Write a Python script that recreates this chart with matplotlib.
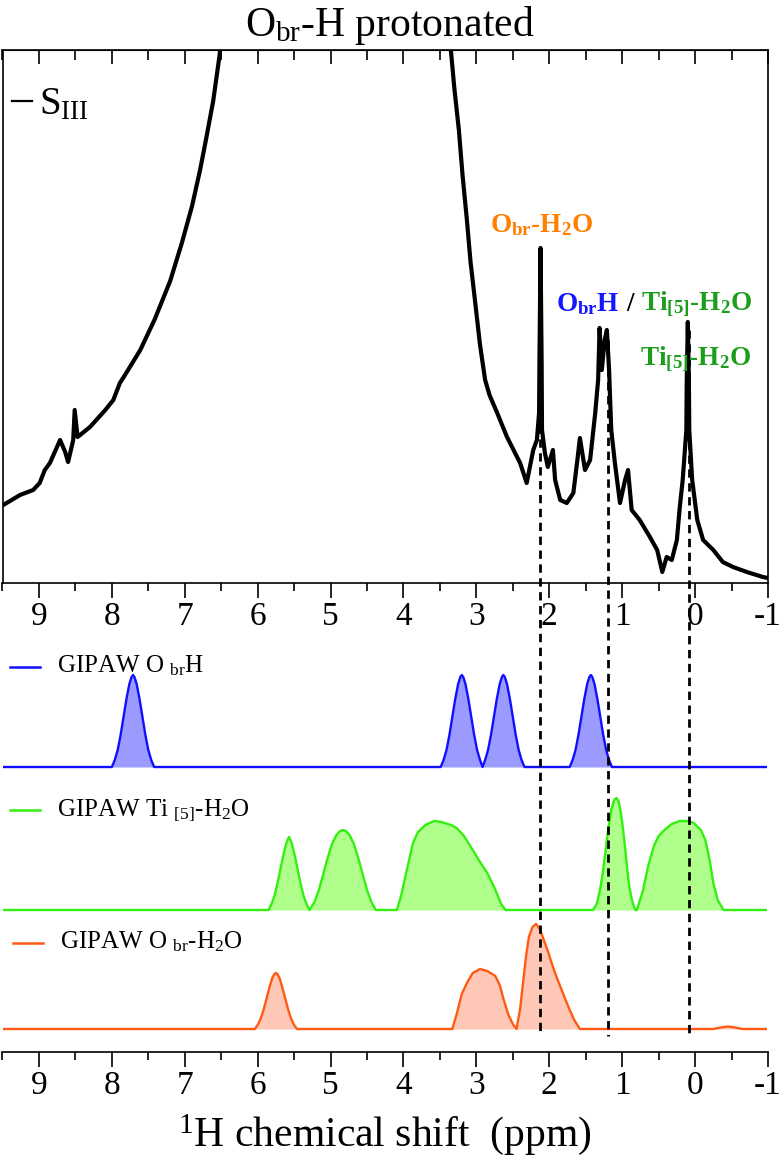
import matplotlib
matplotlib.use("Agg")
from matplotlib import pyplot as plt
from matplotlib.ticker import FixedLocator, MultipleLocator

plt.rcParams['font.family'] = ['Liberation Serif', 'DejaVu Serif']
plt.rcParams['mathtext.fontset'] = 'custom'
plt.rcParams['mathtext.rm'] = 'Liberation Serif'
plt.rcParams['mathtext.it'] = 'Liberation Serif:italic'
plt.rcParams['mathtext.bf'] = 'Liberation Serif:bold'
plt.rcParams['axes.unicode_minus'] = False

# ---- data (ppm, intensity) ----
# experimental 1H spectrum S_III (arbitrary units, top goes off scale)
exp_ppm = [9.49, 9.26, 9.08, 8.99, 8.92, 8.85, 8.71, 8.64, 8.60, 8.53, 8.51, 8.47,
           8.30, 8.09, 7.98, 7.89, 7.82, 7.61, 7.41, 7.20, 7.04, 6.90, 6.79, 6.71,
           6.61, 6.52, 6.45,
           3.42, 3.35, 3.30, 3.24, 3.19, 3.13, 3.08, 3.02, 2.95, 2.88, 2.82, 2.72,
           2.58, 2.40, 2.31, 2.22, 2.17, 2.14, 2.135, 2.12, 2.105, 2.10, 2.06, 2.02,
           1.95, 1.92, 1.85, 1.76, 1.67, 1.61, 1.58, 1.51, 1.44, 1.37, 1.33, 1.31,
           1.28, 1.24, 1.21, 1.18, 1.15, 1.10, 1.03, 0.96, 0.92, 0.87, 0.76, 0.62,
           0.52, 0.45, 0.39, 0.32, 0.25, 0.21, 0.17, 0.12, 0.115, 0.10, 0.085, 0.08,
           0.04, -0.03, -0.11, -0.25, -0.38, -0.52, -0.71, -0.93, -1.00]
exp_int = [78, 88, 93, 100, 113, 120, 143, 131, 121, 143, 173, 146,
           156, 173, 183, 200, 208, 233, 264, 302, 340, 377, 413, 443,
           482, 529, 600,
           600, 533, 493, 453, 408, 363, 321, 283, 238, 203, 188, 171,
           146, 120, 100, 133, 143, 170, 220, 335, 220, 153, 130, 116,
           133, 103, 83, 80, 90, 126, 145, 113, 123, 170, 203, 255,
           213, 243, 253, 213, 153, 120, 80, 103, 113, 73, 63, 46,
           33, 11, 26, 23, 43, 76, 103, 153, 200, 261, 200, 153,
           103, 63, 43, 33, 21, 16, 11, 6, 5]

# GIPAW O_brH
obrh_ppm = [9.48,
            8.00, 7.96, 7.92, 7.88, 7.84, 7.80, 7.76, 7.73, 7.71, 7.69, 7.66, 7.62, 7.58, 7.54, 7.50, 7.46, 7.42,
            3.49, 3.45, 3.41, 3.37, 3.33, 3.29, 3.25, 3.22, 3.20, 3.18, 3.15, 3.11, 3.07, 3.03, 2.99, 2.95, 2.915,
            2.88, 2.84, 2.80, 2.76, 2.72, 2.68, 2.65, 2.63, 2.61, 2.58, 2.54, 2.50, 2.46, 2.42, 2.38, 2.34,
            1.72, 1.68, 1.64, 1.60, 1.56, 1.52, 1.48, 1.45, 1.43, 1.41, 1.38, 1.34, 1.30, 1.26, 1.22, 1.18, 1.14,
            -0.97]
obrh_int = [0,
            0, 7, 17, 32, 50, 68, 83, 90, 92, 90, 83, 68, 50, 32, 17, 7, 0,
            0, 7, 17, 32, 50, 68, 83, 90, 92, 90, 83, 68, 50, 32, 17, 7, 0,
            7, 17, 32, 50, 68, 83, 90, 92, 90, 83, 68, 50, 32, 17, 7, 0,
            0, 7, 17, 32, 50, 68, 83, 90, 92, 90, 83, 68, 50, 32, 17, 7, 0,
            0]

# GIPAW Ti[5]-H2O
ti5_ppm = [9.48,
           5.85, 5.81, 5.77, 5.73, 5.69, 5.65, 5.61, 5.585, 5.57, 5.555, 5.53, 5.49, 5.45, 5.41, 5.37, 5.33, 5.29,
           5.22, 5.16, 5.10, 5.04, 4.98, 4.92, 4.87, 4.83, 4.79, 4.74, 4.68, 4.62, 4.56, 4.50, 4.44, 4.38,
           4.09, 4.03, 3.96, 3.87, 3.80, 3.70, 3.58, 3.48, 3.35, 3.27, 3.17, 3.05, 2.95, 2.85, 2.75, 2.66, 2.60,
           1.40, 1.35, 1.31, 1.27, 1.23, 1.19, 1.15, 1.11, 1.08, 1.05, 1.02, 0.99, 0.96, 0.93, 0.90, 0.86, 0.82,
           0.80, 0.72, 0.64, 0.56, 0.50, 0.42, 0.32, 0.21, 0.10, 0.02, -0.08, -0.14, -0.20, -0.25, -0.31, -0.39,
           -0.97]
ti5_int = [0,
           0, 6, 14, 26, 40, 54, 66, 71, 73, 71, 66, 54, 40, 26, 14, 6, 0,
           8, 20, 36, 52, 66, 75, 79, 80, 79, 75, 66, 52, 36, 20, 8, 0,
           0, 15, 38, 67, 78, 85, 89, 88, 85, 82, 74, 60, 48, 37, 22, 6, 0,
           0, 6, 18, 35, 58, 82, 100, 110, 112, 109, 98, 82, 62, 40, 22, 8, 0,
           0, 18, 45, 65, 74, 80, 86, 89, 89, 87, 80, 70, 50, 27, 10, 0,
           0]

# GIPAW O_br-H2O
obrh2o_ppm = [9.48,
              6.04, 6.00, 5.96, 5.92, 5.88, 5.84, 5.80, 5.77, 5.75, 5.73, 5.70, 5.66, 5.62, 5.58, 5.54, 5.50, 5.46,
              3.33, 3.27, 3.20, 3.13, 3.05, 2.95, 2.85, 2.74, 2.68, 2.62, 2.56, 2.50, 2.45,
              2.40, 2.36, 2.32, 2.28, 2.23, 2.18, 2.13, 2.09, 2.02, 1.95, 1.89, 1.83, 1.77, 1.72, 1.65, 1.58,
              -0.25, -0.35, -0.45, -0.55, -0.65,
              -0.97]
obrh2o_int = [0,
              0, 4, 10, 19, 30, 41, 51, 55, 56, 55, 51, 41, 30, 19, 10, 4, 0,
              0, 15, 35, 46, 56, 60, 58, 53, 44, 28, 14, 5, 0,
              20, 46, 72, 92, 102, 105, 100, 92, 78, 62, 50, 39, 28, 19, 8, 0,
              0, 1.5, 2.5, 1.5, 0,
              0]

marker_ppm = [2.13, 1.20, 0.09]
tick_vals = [9, 8, 7, 6, 5, 4, 3, 2, 1, 0, -1]
tick_labels = ['9', '8', '7', '6', '5', '4', '3', '2', '1', '0', '-1']

# ---- layout helpers (figure pixels) ----
W, H = 780, 1165
X0, X1 = 2.5, 768


def box(top, bottom):
    return [X0 / W, 1 - bottom / H, (X1 - X0) / W, (bottom - top) / H]


def fx(px):
    return px / W


def fy(py):
    return 1 - py / H


fig = plt.figure(figsize=(7.8, 11.65), dpi=100)

# top panel: experimental spectrum
ax_top = fig.add_axes(box(50, 583))
ax_top.plot(exp_ppm, exp_int, color='black', lw=3.0, solid_joinstyle='round')
ax_top.set_xlim(9.5, -1)
ax_top.set_ylim(0, 533)
ax_top.set_yticks([])
ax_top.xaxis.set_major_locator(FixedLocator(tick_vals))
ax_top.set_xticklabels(tick_labels)
ax_top.xaxis.set_minor_locator(MultipleLocator(0.5))
ax_top.tick_params(axis='x', which='major', direction='out', length=11, width=1.2,
                   labelsize=24, pad=2)
ax_top.tick_params(axis='x', which='minor', direction='out', length=6, width=1.2)
for s in ax_top.spines.values():
    s.set_linewidth(1.2)
sec = ax_top.secondary_xaxis('top')
sec.xaxis.set_major_locator(FixedLocator(tick_vals))
sec.xaxis.set_minor_locator(MultipleLocator(0.5))
sec.tick_params(axis='x', which='major', direction='in', length=10, width=1.2, labeltop=False)
sec.tick_params(axis='x', which='minor', direction='in', length=7, width=1.2)

# bottom panel: GIPAW simulated spectra
ax_bot = fig.add_axes(box(640, 1052))
ax_bot.set_xlim(9.5, -1)
ax_bot.set_ylim(0, 412)
traces = [
    (obrh_ppm, obrh_int, 285, '#1010ff', '#9a9aff'),
    (ti5_ppm, ti5_int, 142, '#33f010', '#b0ff8c'),
    (obrh2o_ppm, obrh2o_int, 23, '#ff5a14', '#ffc8b6'),
]
for ppm, inten, base, lc, fc in traces:
    yy = [base + v for v in inten]
    ax_bot.fill_between(ppm, base, yy, color=fc, lw=0)
    ax_bot.plot(ppm, yy, color=lc, lw=1.7)
for side in ['left', 'right', 'top']:
    ax_bot.spines[side].set_visible(False)
ax_bot.spines['bottom'].set_linewidth(1.2)
ax_bot.set_yticks([])
ax_bot.xaxis.set_major_locator(FixedLocator(tick_vals))
ax_bot.set_xticklabels(tick_labels)
ax_bot.xaxis.set_minor_locator(MultipleLocator(0.5))
ax_bot.tick_params(axis='x', which='major', direction='out', length=11, width=1.2,
                   labelsize=24, pad=2)
ax_bot.tick_params(axis='x', which='minor', direction='out', length=6, width=1.2)
ax_bot.set_xlabel(r"$^{1}$H chemical shift  (ppm)", fontsize=30, labelpad=8)

# overlay for dashed guide lines
ax_ov = fig.add_axes(box(0, H))
ax_ov.set_xlim(9.5, -1)
ax_ov.set_ylim(H, 0)
ax_ov.axis('off')
ax_ov.patch.set_alpha(0)
ax_ov.vlines(marker_ppm, [300, 340, 330], 1036, colors='black', lw=2,
             linestyles=(0, (3, 2)))

# texts
fig.text(0.5, fy(36), r"O$_{\mathrm{br}}$-H protonated", ha='center', va='baseline', fontsize=30)

fig.lines.append(plt.Line2D([fx(12), fx(32)], [fy(101), fy(101)], color='black', lw=1.6,
                            transform=fig.transFigure))
fig.text(fx(39), fy(114), r"S$_{\mathrm{III}}$", ha='left', va='baseline', fontsize=28)

fig.text(fx(542), fy(232), r"O$_{\mathbf{br}}$-H$_{\mathbf{2}}$O", color='#ff7f00',
         fontweight='bold', fontsize=19.5, ha='center', va='baseline')
fig.text(fx(556), fy(311), r"O$_{\mathbf{br}}$H", color='#1515ff',
         fontweight='bold', fontsize=19.5, ha='left', va='baseline')
fig.text(fx(630), fy(311), "/", color='black',
         fontweight='bold', fontsize=19.5, ha='center', va='baseline')
fig.text(fx(641), fy(311), r"Ti$_{\mathbf{[5]}}$-H$_{\mathbf{2}}$O", color='#1c9e1c',
         fontweight='bold', fontsize=19.5, ha='left', va='baseline')
fig.text(fx(696), fy(366), r"Ti$_{\mathbf{[5]}}$-H$_{\mathbf{2}}$O", color='#1c9e1c',
         fontweight='bold', fontsize=19.5, ha='center', va='baseline')

legend_rows = [
    (667, 672, 10, 57, '#1010ff', r"GIPAW O $_{\mathrm{br}}$H"),
    (810, 815, 10, 57, '#33f010', r"GIPAW Ti $_{\mathrm{[5]}}$-H$_{\mathrm{2}}$O"),
    (943, 948, 13, 60, '#ff5a14', r"GIPAW O $_{\mathrm{br}}$-H$_{\mathrm{2}}$O"),
]
for ly, ty, lx, tx, col, label in legend_rows:
    fig.lines.append(plt.Line2D([fx(lx), fx(lx + 30)], [fy(ly), fy(ly)], color=col, lw=1.8,
                                transform=fig.transFigure))
    fig.text(fx(tx), fy(ty), label, ha='left', va='baseline', fontsize=18)

fig.savefig("out.png", dpi=100)
